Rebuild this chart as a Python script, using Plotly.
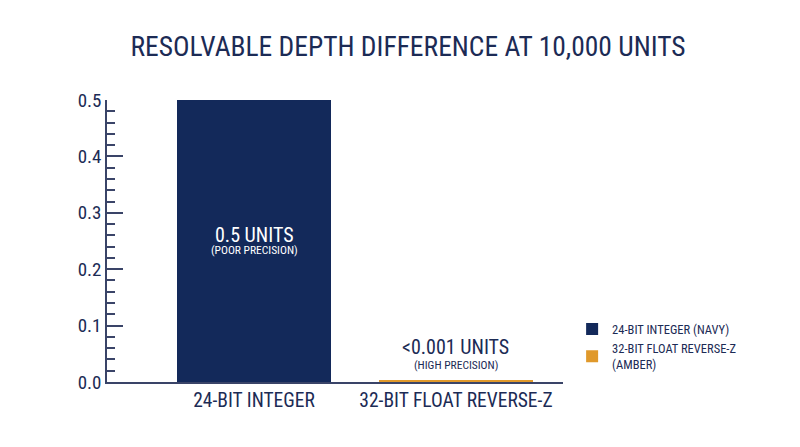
import plotly.graph_objects as go

categories = ["24-BIT INTEGER", "32-BIT FLOAT REVERSE-Z"]
values = [0.5, 0.004]
legend_names = ["24-BIT INTEGER (NAVY)", "32-BIT FLOAT REVERSE-Z<br>(AMBER)"]
colors = ["#13295a", "#e0992b"]
main_labels = ["0.5 UNITS", "<0.001 UNITS"]
sub_labels = ["(POOR PRECISION)", "(HIGH PRECISION)"]
main_label_y = [0.26, 0.062]
sub_label_y = [0.234, 0.031]
tickvals = [0.0, 0.1, 0.2, 0.3, 0.4, 0.5]
ticktext = ["0.0", "0.1", "0.2", "0.3", "0.4", "0.5"]

FONT = "Liberation Sans Narrow, Roboto Condensed, Arial Narrow, Roboto, sans-serif"
TXT = "#1c2b55"

fig = go.Figure()
for i, c in enumerate(categories):
    fig.add_bar(x=[c], y=[values[i]], name=legend_names[i], marker_color=colors[i],
                width=0.76, marker_line_width=0)
    fig.add_annotation(x=c, y=main_label_y[i], text=main_labels[i], showarrow=False,
                       font=dict(size=20, color="white" if i == 0 else TXT, family=FONT))
    fig.add_annotation(x=c, y=sub_label_y[i], text=sub_labels[i], showarrow=False,
                       font=dict(size=11.5, color="white" if i == 0 else TXT, family=FONT))

fig.update_layout(
    width=800, height=447, plot_bgcolor="white", paper_bgcolor="white",
    margin=dict(l=99, r=245, t=92, b=73),
    font=dict(family=FONT, color=TXT),
    title=dict(text="RESOLVABLE DEPTH DIFFERENCE AT 10,000 UNITS", x=0.5, xanchor="center",
               y=0.915, yanchor="middle", font=dict(size=27.5, color=TXT, family=FONT)),
    showlegend=True,
    legend=dict(x=1.02, y=0.24, xanchor="left", yanchor="top", font=dict(size=12.5, color=TXT),
                itemsizing="constant", tracegroupgap=6),
    bargap=0,
)
fig.update_xaxes(range=[-0.728, 1.53], showline=True, linecolor="#3a4468", linewidth=1.5,
                 ticks="", tickfont=dict(size=19.5, color=TXT), showgrid=False)
fig.update_yaxes(range=[0, 0.5], showline=True, linecolor="#3a4468", linewidth=1.5,
                 tickvals=tickvals, ticktext=ticktext, ticks="inside", ticklen=16,
                 tickcolor="#3a4468", tickwidth=1.5, showgrid=False, zeroline=False,
                 tickfont=dict(size=19, color=TXT),
                 minor=dict(dtick=0.02, ticks="inside", ticklen=8, tickcolor="#3a4468",
                            tickwidth=1.5, showgrid=False))
fig.write_html("out.html")
